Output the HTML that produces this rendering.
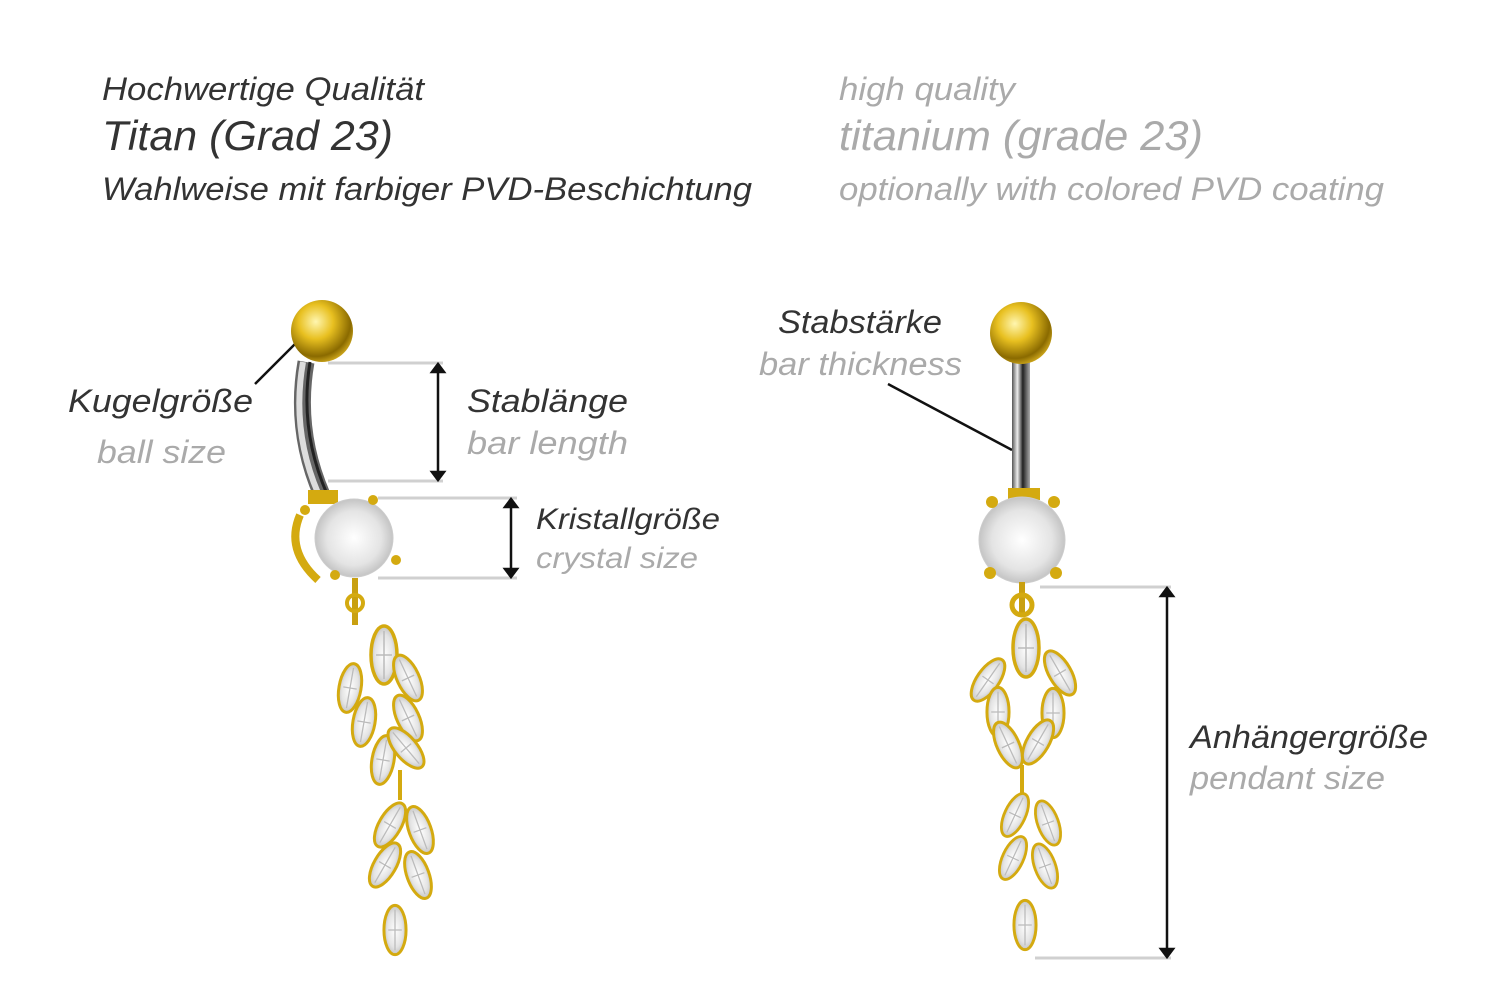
<!DOCTYPE html>
<html><head><meta charset="utf-8"><style>
body{margin:0;background:#fff;}
svg text{font-family:"Liberation Sans",sans-serif;font-style:italic;}
</style></head><body>
<svg width="1500" height="1001" viewBox="0 0 1500 1001" xmlns="http://www.w3.org/2000/svg">
<defs>
<radialGradient id="gold" cx="0.4" cy="0.35" r="0.7"><stop offset="0" stop-color="#fff6b0"/><stop offset="0.4" stop-color="#e8c020"/><stop offset="0.8" stop-color="#8a6a00"/><stop offset="1" stop-color="#d8b020"/></radialGradient>
<linearGradient id="bar" x1="0" x2="1"><stop offset="0" stop-color="#555"/><stop offset="0.3" stop-color="#eee"/><stop offset="0.6" stop-color="#222"/><stop offset="1" stop-color="#aaa"/></linearGradient>
<radialGradient id="cz" cx="0.5" cy="0.5" r="0.5"><stop offset="0" stop-color="#fff"/><stop offset="0.7" stop-color="#e4e4e4"/><stop offset="1" stop-color="#c4c4c4"/></radialGradient>
<g id="leaf"><ellipse rx="13" ry="29" fill="url(#cz)" stroke="#d4aa10" stroke-width="3.5"/><path d="M0-24V24M-8 0H8" stroke="#bbb" stroke-width="1.5"/></g>
</defs>
<g font-size="32">
<text x="102" y="100" fill="#333" textLength="322" lengthAdjust="spacingAndGlyphs">Hochwertige Qualität</text>
<text x="102" y="150" fill="#333" font-size="42" textLength="291" lengthAdjust="spacingAndGlyphs">Titan (Grad 23)</text>
<text x="102" y="200" fill="#333" textLength="650" lengthAdjust="spacingAndGlyphs">Wahlweise mit farbiger PVD-Beschichtung</text>
<text x="839" y="100" fill="#aaa" textLength="176" lengthAdjust="spacingAndGlyphs">high quality</text>
<text x="839" y="150" fill="#aaa" font-size="42" textLength="364" lengthAdjust="spacingAndGlyphs">titanium (grade 23)</text>
<text x="839" y="200" fill="#aaa" textLength="545" lengthAdjust="spacingAndGlyphs">optionally with colored PVD coating</text>
<text x="68" y="412" fill="#333" textLength="185" lengthAdjust="spacingAndGlyphs">Kugelgröße</text>
<text x="97" y="463" fill="#aaa" textLength="129" lengthAdjust="spacingAndGlyphs">ball size</text>
<text x="467" y="412" fill="#333" textLength="161" lengthAdjust="spacingAndGlyphs">Stablänge</text>
<text x="467" y="454" fill="#aaa" textLength="161" lengthAdjust="spacingAndGlyphs">bar length</text>
<text x="536" y="529" fill="#333" font-size="30" textLength="184" lengthAdjust="spacingAndGlyphs">Kristallgröße</text>
<text x="536" y="568" fill="#aaa" font-size="30" textLength="162" lengthAdjust="spacingAndGlyphs">crystal size</text>
<text x="778" y="333" fill="#333" textLength="164" lengthAdjust="spacingAndGlyphs">Stabstärke</text>
<text x="759" y="375" fill="#aaa" textLength="203" lengthAdjust="spacingAndGlyphs">bar thickness</text>
<text x="1190" y="748" fill="#333" textLength="238" lengthAdjust="spacingAndGlyphs">Anhängergröße</text>
<text x="1190" y="789" fill="#aaa" textLength="195" lengthAdjust="spacingAndGlyphs">pendant size</text>
</g>
<g stroke="#d0d0d0" stroke-width="3">
<line x1="328" y1="363" x2="443" y2="363"/><line x1="328" y1="481" x2="443" y2="481"/>
<line x1="378" y1="498" x2="517" y2="498"/><line x1="378" y1="578" x2="517" y2="578"/>
<line x1="1040" y1="587" x2="1171" y2="587"/><line x1="1035" y1="958" x2="1171" y2="958"/>
</g>
<g stroke="#111" stroke-width="2.5" fill="#111">
<line x1="438" y1="370" x2="438" y2="474"/><path d="M432 372L438 364 444 372ZM432 472L438 480 444 472Z"/>
<line x1="511" y1="505" x2="511" y2="571"/><path d="M505 507L511 499 517 507ZM505 569L511 577 517 569Z"/>
<line x1="1167" y1="594" x2="1167" y2="951"/><path d="M1161 596L1167 588 1173 596ZM1161 949L1167 957 1173 949Z"/>
<line x1="255" y1="384" x2="297" y2="342"/>
<line x1="888" y1="384" x2="1012" y2="450"/>
</g>
<!-- left piece -->
<path d="M306 362Q294 430 322 495" stroke="#666" stroke-width="17" fill="none"/>
<path d="M303 362Q291 430 318 493" stroke="#ddd" stroke-width="6" fill="none"/>
<path d="M310 362Q299 430 327 494" stroke="#222" stroke-width="3" fill="none"/>
<circle cx="322" cy="331" r="31" fill="url(#gold)"/>
<rect x="308" y="490" width="30" height="14" fill="#d4aa10"/>
<path d="M300 515Q285 550 318 580" stroke="#d4aa10" stroke-width="8" fill="none"/>
<circle cx="354" cy="538" r="39" fill="url(#cz)" stroke="#ccc"/>
<g fill="#d4aa10"><circle cx="373" cy="500" r="5"/><circle cx="396" cy="560" r="5"/><circle cx="335" cy="575" r="5"/><circle cx="305" cy="510" r="5"/></g>
<path d="M355 578V625" stroke="#c9a010" stroke-width="6"/>
<circle cx="355" cy="603" r="8" fill="none" stroke="#d4aa10" stroke-width="4"/>
<use href="#leaf" transform="translate(384 655)"/>
<use href="#leaf" transform="translate(350 688) rotate(10) scale(.85)"/>
<use href="#leaf" transform="translate(408 678) rotate(-25) scale(.85)"/>
<use href="#leaf" transform="translate(364 722) rotate(10) scale(.85)"/>
<use href="#leaf" transform="translate(408 718) rotate(-25) scale(.85)"/>
<use href="#leaf" transform="translate(383 760) rotate(10) scale(.85)"/>
<use href="#leaf" transform="translate(406 748) rotate(-40) scale(.85)"/>
<path d="M400 770V800" stroke="#d4aa10" stroke-width="4"/>
<use href="#leaf" transform="translate(390 825) rotate(30) scale(.85)"/>
<use href="#leaf" transform="translate(420 830) rotate(-20) scale(.85)"/>
<use href="#leaf" transform="translate(385 865) rotate(30) scale(.85)"/>
<use href="#leaf" transform="translate(418 875) rotate(-20) scale(.85)"/>
<use href="#leaf" transform="translate(395 930) scale(.85)"/>
<!-- right piece -->
<rect x="1012" y="362" width="18" height="128" fill="url(#bar)"/>
<circle cx="1021" cy="333" r="31" fill="url(#gold)"/>
<rect x="1008" y="488" width="32" height="12" fill="#d4aa10"/>
<circle cx="1022" cy="540" r="43" fill="url(#cz)" stroke="#ccc"/>
<g fill="#d4aa10"><circle cx="992" cy="502" r="6"/><circle cx="1054" cy="502" r="6"/><circle cx="990" cy="573" r="6"/><circle cx="1056" cy="573" r="6"/></g>
<path d="M1022 582V615" stroke="#c9a010" stroke-width="6"/>
<circle cx="1022" cy="605" r="10" fill="none" stroke="#d4aa10" stroke-width="5"/>
<use href="#leaf" transform="translate(1026 648)"/>
<use href="#leaf" transform="translate(988 680) rotate(35) scale(.85)"/>
<use href="#leaf" transform="translate(1060 673) rotate(-30) scale(.85)"/>
<use href="#leaf" transform="translate(998 712) scale(.85)"/>
<use href="#leaf" transform="translate(1053 713) scale(.85)"/>
<use href="#leaf" transform="translate(1008 745) rotate(-25) scale(.85)"/>
<use href="#leaf" transform="translate(1038 742) rotate(30) scale(.85)"/>
<path d="M1022 765V795" stroke="#d4aa10" stroke-width="4"/>
<use href="#leaf" transform="translate(1015 815) rotate(25) scale(.8)"/>
<use href="#leaf" transform="translate(1048 823) rotate(-20) scale(.8)"/>
<use href="#leaf" transform="translate(1013 858) rotate(25) scale(.8)"/>
<use href="#leaf" transform="translate(1045 866) rotate(-20) scale(.8)"/>
<use href="#leaf" transform="translate(1025 925) scale(.85)"/>
</svg>
</body></html>
